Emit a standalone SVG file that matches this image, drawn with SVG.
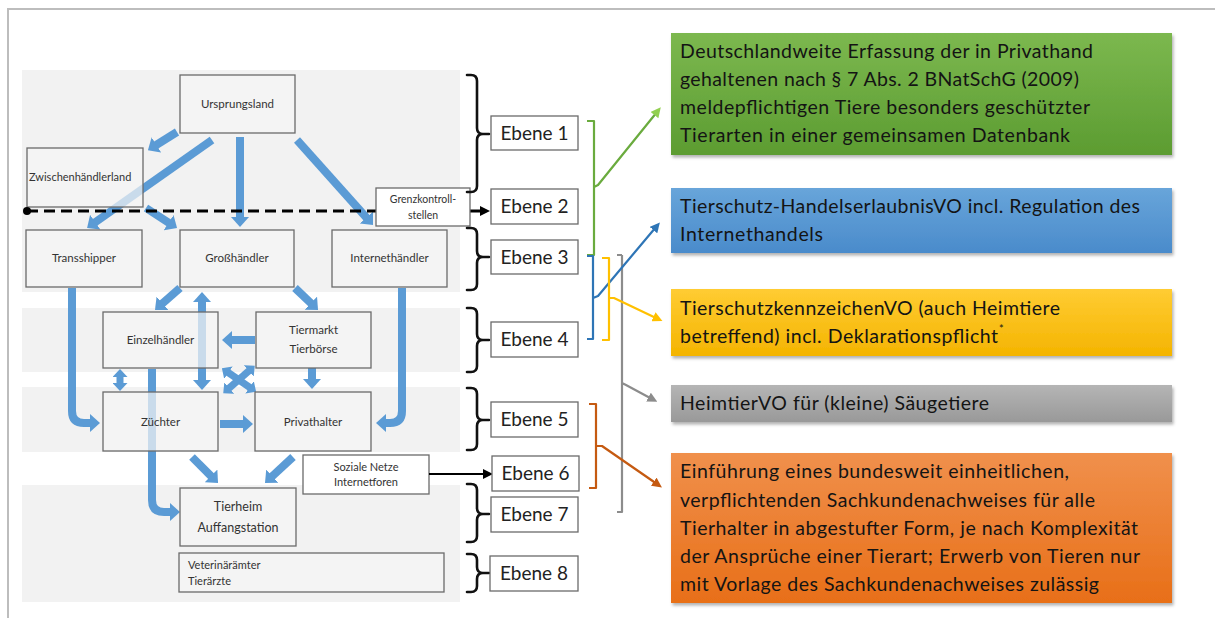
<svg xmlns="http://www.w3.org/2000/svg" width="1215" height="618" viewBox="0 0 1215 618">
<style>
.band{fill:#f2f2f2}
.nd{fill:#f4f4f4;fill-opacity:0.72;stroke:#6a6a6a;stroke-width:1.3}
.nt{font-family:Lato,"Open Sans",sans-serif;font-size:11.5px;fill:#333;text-anchor:middle}
.ntl{font-family:Lato,"Open Sans",sans-serif;font-size:11px;fill:#333}
.eb{fill:#fff;stroke:#6a6a6a;stroke-width:1.3}
.et{font-family:Lato,"Open Sans",sans-serif;font-size:19px;fill:#222;text-anchor:middle}
.ba{stroke:#5b9bd5;stroke-width:8;fill:none}
.bs{stroke:#5b9bd5;stroke-width:7;fill:none}
.brace{stroke:#111;stroke-width:2.6;fill:none;stroke-linecap:round;stroke-linejoin:round}
.bt{font-family:Lato,"Open Sans",sans-serif;font-size:19.5px;fill:#141414}
</style>
<defs>
<marker id="bh" markerUnits="userSpaceOnUse" viewBox="0 0 10 18" markerWidth="10" markerHeight="18" refX="4" refY="9" orient="auto-start-reverse"><path d="M0,0 L10,9 L0,18 z" fill="#5b9bd5"/></marker>
<marker id="bs" markerUnits="userSpaceOnUse" viewBox="0 0 8 15" markerWidth="8" markerHeight="15" refX="3" refY="7.5" orient="auto-start-reverse"><path d="M0,0 L8,7.5 L0,15 z" fill="#5b9bd5"/></marker>
<marker id="kh" markerUnits="userSpaceOnUse" viewBox="0 0 10 10" markerWidth="10" markerHeight="10" refX="3" refY="5" orient="auto"><path d="M0,0 L10,5 L0,10 z" fill="#000"/></marker>
<marker id="gh" markerUnits="userSpaceOnUse" viewBox="0 0 10 10" markerWidth="10" markerHeight="10" refX="4" refY="5" orient="auto"><path d="M0,0 L10,5 L0,10 z" fill="#92d050"/></marker>
<marker id="blh" markerUnits="userSpaceOnUse" viewBox="0 0 10 10" markerWidth="10" markerHeight="10" refX="4" refY="5" orient="auto"><path d="M0,0 L10,5 L0,10 z" fill="#2e75b6"/></marker>
<marker id="yh" markerUnits="userSpaceOnUse" viewBox="0 0 10 10" markerWidth="10" markerHeight="10" refX="4" refY="5" orient="auto"><path d="M0,0 L10,5 L0,10 z" fill="#ffc000"/></marker>
<marker id="grh" markerUnits="userSpaceOnUse" viewBox="0 0 10 10" markerWidth="10" markerHeight="10" refX="4" refY="5" orient="auto"><path d="M0,0 L10,5 L0,10 z" fill="#8c8c8c"/></marker>
<marker id="oh" markerUnits="userSpaceOnUse" viewBox="0 0 10 10" markerWidth="10" markerHeight="10" refX="4" refY="5" orient="auto"><path d="M0,0 L10,5 L0,10 z" fill="#c55a11"/></marker>
<linearGradient id="gGreen" x1="0" y1="0" x2="0" y2="1"><stop offset="0" stop-color="#7cb84f"/><stop offset="1" stop-color="#5c9c31"/></linearGradient>
<linearGradient id="gBlue" x1="0" y1="0" x2="0" y2="1"><stop offset="0" stop-color="#68a5da"/><stop offset="1" stop-color="#4a8bcb"/></linearGradient>
<linearGradient id="gYellow" x1="0" y1="0" x2="0" y2="1"><stop offset="0" stop-color="#ffcc33"/><stop offset="1" stop-color="#f4b400"/></linearGradient>
<linearGradient id="gGray" x1="0" y1="0" x2="0" y2="1"><stop offset="0" stop-color="#b5b5b5"/><stop offset="1" stop-color="#999"/></linearGradient>
<linearGradient id="gOrange" x1="0" y1="0" x2="0" y2="1"><stop offset="0" stop-color="#f0904c"/><stop offset="1" stop-color="#e86f18"/></linearGradient>
<filter id="sh" x="-5%" y="-10%" width="110%" height="130%"><feDropShadow dx="1.5" dy="2.5" stdDeviation="1.8" flood-color="#000" flood-opacity="0.3"/></filter>
</defs>

<rect width="1215" height="618" fill="#fff"/>
<path d="M1215 9 H8 V618" fill="none" stroke="#bdbdbd" stroke-width="2"/>

<g id="bands">
<rect class="band" x="22" y="70" width="438" height="222"/>
<rect class="band" x="22" y="308" width="438" height="64"/>
<rect class="band" x="22" y="387" width="438" height="65"/>
<rect class="band" x="22" y="485" width="438" height="117"/>
</g>

<g id="connectors">
<line class="ba" x1="177" y1="132" x2="153" y2="147" marker-end="url(#bh)"/>
<line class="ba" x1="212" y1="140" x2="92" y2="224.5" marker-end="url(#bh)"/>
<line class="ba" x1="240" y1="137" x2="240" y2="221" marker-end="url(#bh)"/>
<line class="ba" x1="297" y1="140" x2="369" y2="220.5" marker-end="url(#bh)"/>
<line class="ba" x1="146" y1="208" x2="172" y2="224.8" marker-end="url(#bh)"/>
<path class="ba" d="M72 288 V411 Q72 423 84 423 H94" marker-end="url(#bh)"/>
<path class="ba" d="M402 288 V411 Q402 423 390 423 H382" marker-end="url(#bh)"/>
<line class="ba" x1="180" y1="288" x2="159.5" y2="306" marker-end="url(#bh)"/>
<line class="ba" x1="202" y1="298" x2="202" y2="384" marker-start="url(#bh)" marker-end="url(#bh)"/>
<line class="ba" x1="295" y1="288" x2="313.7" y2="305.9" marker-end="url(#bh)"/>
<line class="ba" x1="255" y1="340" x2="228" y2="340" marker-end="url(#bh)"/>
<line class="bs" x1="120" y1="374" x2="120" y2="386" marker-start="url(#bs)" marker-end="url(#bs)"/>
<path class="ba" d="M152 369 V500 Q152 512 164 512 H174" marker-end="url(#bh)"/>
<line class="bs" x1="226" y1="371" x2="252" y2="389" marker-start="url(#bs)" marker-end="url(#bs)"/>
<line class="bs" x1="227" y1="390" x2="251" y2="369" marker-start="url(#bs)" marker-end="url(#bs)"/>
<line class="ba" x1="312" y1="368" x2="312" y2="383" marker-end="url(#bh)"/>
<line class="ba" x1="220" y1="424" x2="247" y2="424" marker-end="url(#bh)"/>
<line class="ba" x1="192" y1="457" x2="213.8" y2="478.8" marker-end="url(#bh)"/>
<line class="ba" x1="293" y1="457" x2="269.4" y2="478.9" marker-end="url(#bh)"/>
</g>

<g id="n-ursprungsland"><rect class="nd" x="180" y="75" width="115" height="58"/><text class="nt" x="237.5" y="108">Ursprungsland</text></g>
<g id="n-zwischenhaendlerland"><rect class="nd" x="27" y="148" width="116" height="59"/><text class="ntl" x="29" y="181">Zwischenhändlerland</text></g>
<g id="n-transshipper"><rect class="nd" x="26" y="230" width="116" height="57"/><text class="nt" x="84" y="262">Transshipper</text></g>
<g id="n-grosshaendler"><rect class="nd" x="180" y="230" width="114" height="57"/><text class="nt" x="237" y="262">Großhändler</text></g>
<g id="n-internethaendler"><rect class="nd" x="332" y="230" width="115" height="57"/><text class="nt" x="389.5" y="262">Internethändler</text></g>
<g id="n-einzelhaendler"><rect class="nd" x="103" y="312" width="115" height="56"/><text class="nt" x="160.5" y="344">Einzelhändler</text></g>
<g id="n-tiermarkt"><rect class="nd" x="256" y="312" width="115" height="56"/><text class="nt" x="313.5" y="334">Tiermarkt</text><text class="nt" x="313.5" y="353">Tierbörse</text></g>
<g id="n-zuechter"><rect class="nd" x="103" y="392" width="115" height="59"/><text class="nt" x="160.5" y="426">Züchter</text></g>
<g id="n-privathalter"><rect class="nd" x="255" y="392" width="116" height="59"/><text class="nt" x="313" y="426">Privathalter</text></g>
<g id="n-tierheim"><rect class="nd" x="180" y="488" width="116" height="58"/><text class="nt" x="238" y="511" style="font-size:12.5px">Tierheim</text><text class="nt" x="238" y="532" style="font-size:12.5px">Auffangstation</text></g>
<g id="n-veterinaer"><rect class="nd" x="179" y="553" width="265" height="39"/><text class="ntl" x="188" y="569">Veterinärämter</text><text class="ntl" x="188" y="585">Tierärzte</text></g>
<g id="n-soziale"><rect class="eb" x="303" y="455" width="126" height="39"/><text class="nt" x="366" y="471" style="font-size:11px">Soziale Netze</text><text class="nt" x="366" y="486" style="font-size:11px">Internetforen</text></g>

<g id="grenze">
<line x1="27" y1="211" x2="483" y2="211" stroke="#000" stroke-width="3" stroke-dasharray="11 6" marker-end="url(#kh)"/>
<circle cx="27" cy="211" r="4" fill="#000"/>
</g>
<g id="n-grenzkontrolle"><rect class="eb" x="376" y="188" width="94" height="38"/><text class="nt" x="423" y="203" style="font-size:10.5px">Grenzkontroll-</text><text class="nt" x="423" y="219" style="font-size:10.5px">stellen</text></g>
<line x1="429" y1="474" x2="486" y2="474" stroke="#000" stroke-width="2" marker-end="url(#kh)"/>

<g id="braces">
<path class="brace" d="M467 75 H471 Q477 75 477 81 V128 Q477 134 483 134 H489 M483 134 Q477 134 477 140 V186 Q477 192 471 192 H467"/>
<path class="brace" d="M467 228 H471 Q477 228 477 234 V251 Q477 257 483 257 H489 M483 257 Q477 257 477 263 V284 Q477 290 471 290 H467"/>
<path class="brace" d="M467 308 H471 Q477 308 477 314 V334 Q477 340 483 340 H489 M483 340 Q477 340 477 346 V366 Q477 372 471 372 H467"/>
<path class="brace" d="M467 388 H471 Q477 388 477 394 V414 Q477 420 483 420 H489 M483 420 Q477 420 477 426 V444 Q477 450 471 450 H467"/>
<path class="brace" d="M467 484 H471 Q477 484 477 490 V508 Q477 514 483 514 H489 M483 514 Q477 514 477 520 V536 Q477 542 471 542 H467"/>
<path class="brace" d="M467 554 H471 Q477 554 477 560 V567 Q477 573 483 573 H489 M483 573 Q477 573 477 579 V586 Q477 592 471 592 H467"/>
</g>

<g id="ebene-1"><rect class="eb" x="491" y="116" width="87" height="34"/><text class="et" x="534.5" y="140">Ebene 1</text></g>
<g id="ebene-2"><rect class="eb" x="491" y="189" width="87" height="35"/><text class="et" x="534.5" y="213">Ebene 2</text></g>
<g id="ebene-3"><rect class="eb" x="491" y="240" width="87" height="34"/><text class="et" x="534.5" y="264">Ebene 3</text></g>
<g id="ebene-4"><rect class="eb" x="491" y="322" width="87" height="35"/><text class="et" x="534.5" y="346">Ebene 4</text></g>
<g id="ebene-5"><rect class="eb" x="491" y="402" width="87" height="35"/><text class="et" x="534.5" y="426">Ebene 5</text></g>
<g id="ebene-6"><rect class="eb" x="492" y="456" width="87" height="35"/><text class="et" x="535.5" y="480">Ebene 6</text></g>
<g id="ebene-7"><rect class="eb" x="491" y="497" width="87" height="35"/><text class="et" x="534.5" y="521">Ebene 7</text></g>
<g id="ebene-8"><rect class="eb" x="490" y="556" width="88" height="35"/><text class="et" x="534" y="580">Ebene 8</text></g>

<g id="brackets" fill="none" stroke-width="2.2" stroke-linejoin="round">
<path d="M622 255 H617 M622 255 V512 H617 M622 383 L626 385 L652 399" stroke="#8c8c8c" marker-end="url(#grh)"/>
<path d="M587 121 H594 V255 H587 M594 187 L598 185 L657 112" stroke="#6aab3e" marker-end="url(#gh)"/>
<path d="M587 256 H593 V339 H587 M593 298 L598 296 L656 227" stroke="#2e75b6" marker-end="url(#blh)"/>
<path d="M602 258 H609 V340 H602 M609 298 L614 298 L657 318.5" stroke="#ffc000" marker-end="url(#yh)"/>
<path d="M589 404 H596 V488 H589 M596 446 L602 446 L657 484" stroke="#c55a11" marker-end="url(#oh)"/>
</g>

<g id="box-green">
<rect x="671" y="33" width="501" height="122" fill="url(#gGreen)" filter="url(#sh)"/>
<text class="bt" x="680" y="58" textLength="413">Deutschlandweite Erfassung der in Privathand</text>
<text class="bt" x="680" y="86" textLength="399">gehaltenen nach § 7 Abs. 2 BNatSchG (2009)</text>
<text class="bt" x="680" y="114" textLength="410">meldepflichtigen Tiere besonders geschützter</text>
<text class="bt" x="680" y="142" textLength="390">Tierarten in einer gemeinsamen Datenbank</text>
</g>
<g id="box-blue">
<rect x="671" y="188" width="501" height="65" fill="url(#gBlue)" filter="url(#sh)"/>
<text class="bt" x="680" y="213" textLength="460">Tierschutz-HandelserlaubnisVO incl. Regulation des</text>
<text class="bt" x="680" y="241" textLength="143">Internethandels</text>
</g>
<g id="box-yellow">
<rect x="671" y="289" width="501" height="67" fill="url(#gYellow)" filter="url(#sh)"/>
<text class="bt" x="680" y="315" textLength="380">TierschutzkennzeichenVO (auch Heimtiere</text>
<text class="bt" x="680" y="343" textLength="318">betreffend) incl. Deklarationspflicht</text>
<text class="bt" x="999" y="333" style="font-size:11px">*</text>
</g>
<g id="box-gray">
<rect x="671" y="385" width="501" height="37" fill="url(#gGray)" filter="url(#sh)"/>
<text class="bt" x="680" y="410" textLength="309">HeimtierVO für (kleine) Säugetiere</text>
</g>
<g id="box-orange">
<rect x="671" y="453" width="501" height="150" fill="url(#gOrange)" filter="url(#sh)"/>
<text class="bt" x="680" y="478" textLength="389">Einführung eines bundesweit einheitlichen,</text>
<text class="bt" x="680" y="507" textLength="415">verpflichtenden Sachkundenachweises für alle</text>
<text class="bt" x="680" y="535" textLength="458">Tierhalter in abgestufter Form, je nach Komplexität</text>
<text class="bt" x="680" y="563" textLength="460">der Ansprüche einer Tierart; Erwerb von Tieren nur</text>
<text class="bt" x="680" y="591" textLength="419">mit Vorlage des Sachkundenachweises zulässig</text>
</g>
</svg>
